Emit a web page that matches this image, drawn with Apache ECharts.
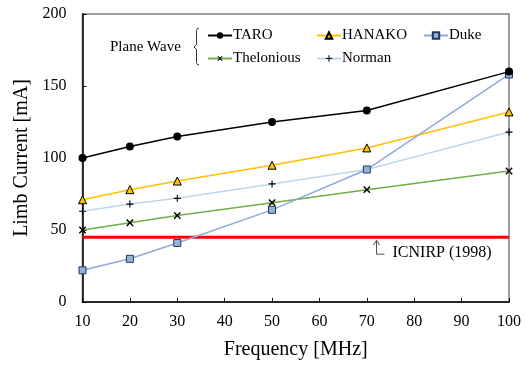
<!DOCTYPE html>
<html><head><meta charset="utf-8">
<script src="https://cdn.jsdelivr.net/npm/echarts@6/dist/echarts.min.js"></script>
<style>html,body{margin:0;padding:0;background:#fff}#c{width:526px;height:368px}</style>
</head><body><div id="c"></div>
<script>
var frequencies = [10, 20, 30, 50, 70, 100];
var taro = [100, 108, 115, 125, 133, 160];
var hanako = [71, 78, 84, 95, 107, 132];
var duke = [22, 30, 41, 64, 92, 158];
var thelonious = [50, 55, 60, 69, 78, 91];
var norman = [63, 68, 72, 82, 92, 118];
var icnirpLevel = 45;
var icnirpRange = [10, 100];
var xTicks = [10, 20, 30, 40, 50, 60, 70, 80, 90, 100];
var yTicks = [0, 50, 100, 150, 200];

function pairs(ys) { return frequencies.map(function (f, i) { return [f, ys[i]]; }); }
var FONT = '"Liberation Serif", "Times New Roman", serif';
var plusPath = 'path://M4.2,0H5.8V4.2H10V5.8H5.8V10H4.2V5.8H0V4.2H4.2Z';

var chart = echarts.init(document.getElementById('c'));
function mk(name, data, color, symbol, size, itemStyle, rotate) {
  return {
    name: name, type: 'line', data: pairs(data), symbol: symbol, symbolSize: size,
    symbolRotate: rotate || 0,
    lineStyle: { color: color, width: 1.5 }, itemStyle: itemStyle, z: 3, animation: false
  };
}
var series = [
  { name: 'ICNIRP', type: 'line', data: icnirpRange.map(function (x) { return [x, icnirpLevel]; }),
    symbol: 'none', lineStyle: { color: '#FF0000', width: 3 }, z: 2, animation: false },
  mk('Thelonious', thelonious, '#70AD47', plusPath, 9, { color: '#000' }, 45),
  mk('Norman', norman, '#BDD7EE', plusPath, 7, { color: '#000' }),
  mk('HANAKO', hanako, '#FFC000', 'triangle', 8, { color: '#FFC000', borderColor: '#000', borderWidth: 1 }),
  mk('Duke', duke, '#8EA9DB', 'rect', 7, { color: '#95B3D7', borderColor: '#1F3864', borderWidth: 1 }),
  mk('TARO', taro, '#000000', 'circle', 8, { color: '#000' })
];
function leg(name, left, top) {
  return { data: [name], left: left, top: top, itemWidth: 24, itemHeight: 8, itemGap: 0,
    padding: 0, textStyle: { fontFamily: FONT, fontSize: 15, color: '#000', padding: [0, 0, 0, -4] } };
}
chart.setOption({
  animation: false,
  grid: { left: 82.5, right: 17, top: 14, bottom: 66, show: true, borderColor: '#808080', borderWidth: 1.5 },
  legend: [leg('TARO', 207, 28), leg('HANAKO', 316, 28), leg('Duke', 423, 28),
           leg('Thelonious', 207, 51), leg('Norman', 316, 51)],
  xAxis: {
    type: 'value', min: xTicks[0], max: xTicks[xTicks.length - 1], interval: 10,
    name: 'Frequency [MHz]', nameLocation: 'middle', nameGap: 38,
    nameTextStyle: { fontFamily: FONT, fontSize: 20, color: '#000' },
    axisLine: { show: true, lineStyle: { color: '#000', width: 1.5 } },
    axisTick: { show: true, inside: true, length: 4, lineStyle: { color: '#000' } },
    axisLabel: { fontFamily: FONT, fontSize: 16, color: '#000', margin: 12 },
    splitLine: { show: false }
  },
  yAxis: {
    type: 'value', min: yTicks[0], max: yTicks[yTicks.length - 1], interval: 50,
    name: 'Limb Current [mA]', nameLocation: 'middle', nameGap: 44,
    nameTextStyle: { fontFamily: FONT, fontSize: 20, color: '#000' },
    axisLine: { show: true, lineStyle: { color: '#000', width: 1.5 } },
    axisTick: { show: true, inside: true, length: 4, lineStyle: { color: '#000' } },
    axisLabel: { fontFamily: FONT, fontSize: 16, color: '#000', margin: 16 },
    splitLine: { show: false }
  },
  series: series
});

var p = chart.convertToPixel({ gridIndex: 0 }, [72, icnirpLevel]);
var ax = Math.round(p[0]) + 0.5, ay = p[1] + 3;
chart.setOption({
  graphic: [
    { type: 'text', x: 110, y: 47, style: { text: 'Plane Wave', font: '15px ' + FONT, fill: '#000', verticalAlign: 'middle' } },
    { type: 'polyline', shape: { points: [[199, 28], [197.2, 28.6], [196.5, 30.5], [196.5, 44.5], [194, 47], [196.5, 49.5], [196.5, 62.5], [197.2, 64.4], [199, 65]] },
      style: { stroke: '#333', fill: 'none', lineWidth: 1 } },
    { type: 'polyline', shape: { points: [[ax, ay], [ax, ay + 14], [ax + 8, ay + 14]] },
      style: { stroke: '#555', fill: 'none', lineWidth: 1 } },
    { type: 'polyline', shape: { points: [[ax - 3, ay + 5], [ax, ay], [ax + 3, ay + 5]] },
      style: { stroke: '#555', fill: 'none', lineWidth: 1 } },
    { type: 'text', x: ax + 16, y: ay + 13, style: { text: 'ICNIRP (1998)', font: '16px ' + FONT, fill: '#000', verticalAlign: 'middle' } }
  ]
});
</script></body></html>
